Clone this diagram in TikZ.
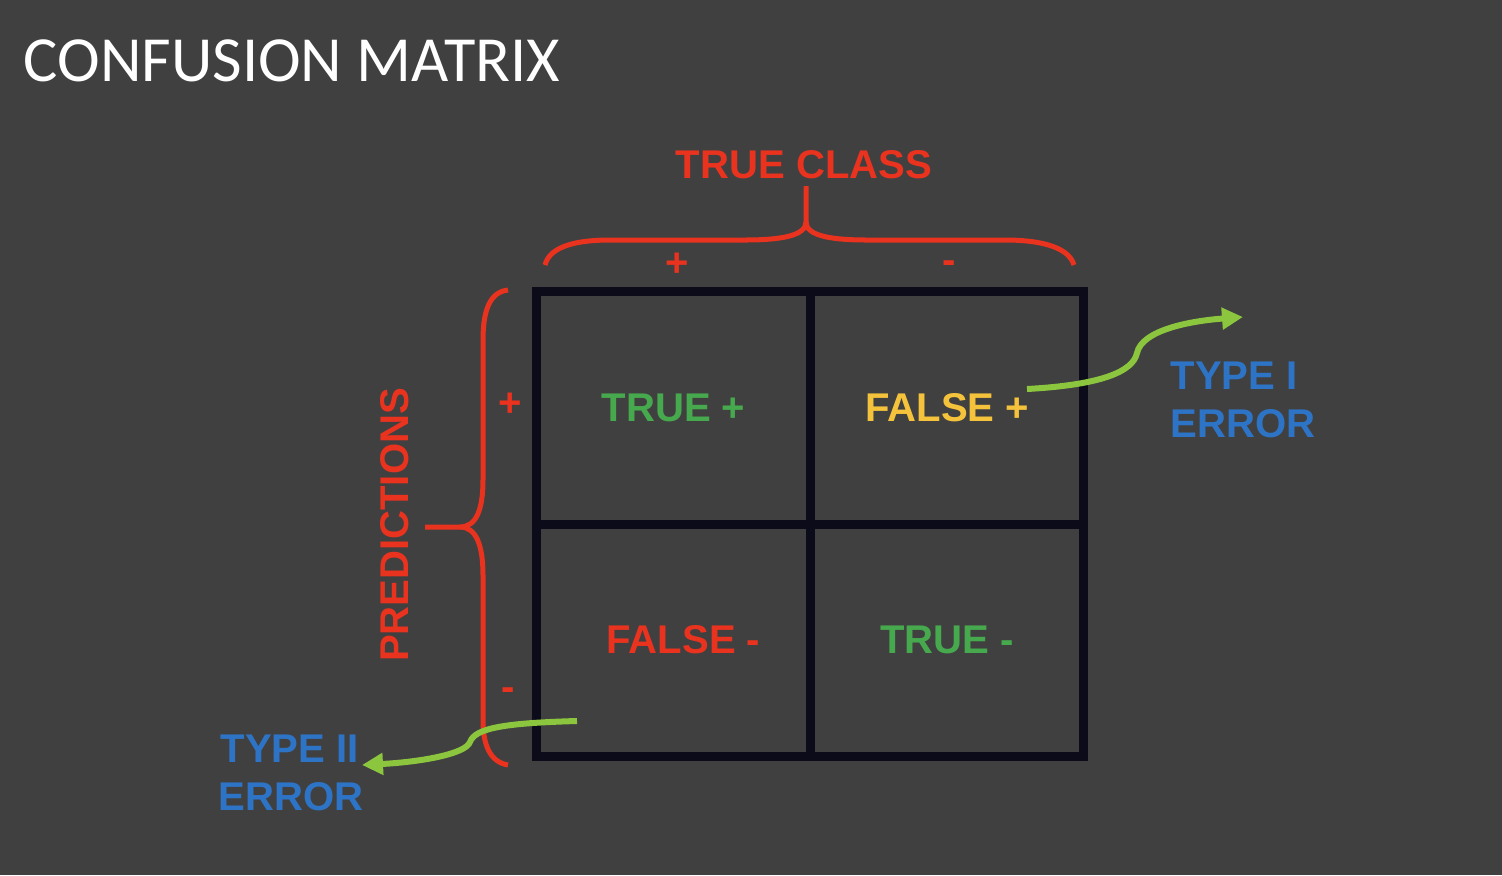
\documentclass[tikz,border=0pt]{standalone}
\usepackage{fontspec}
\setmainfont{Liberation Sans}
\newfontfamily\titlefont{Carlito}
\usetikzlibrary{arrows.meta,positioning}
\definecolor{slate}{HTML}{404040}
\definecolor{gridink}{HTML}{0B0B1A}
\definecolor{alarm}{HTML}{E9331F}
\definecolor{hitgreen}{HTML}{47A94D}
\definecolor{amber}{HTML}{F5C33B}
\definecolor{sky}{HTML}{2E74C6}
\definecolor{lime}{HTML}{8CC63E}
\tikzset{
  lbl/.style={inner sep=0pt, font=\bfseries\fontsize{11.4}{13.7}\selectfont},
  cell/.style={lbl, draw=gridink, line width=0.09cm, outer sep=0pt,
    minimum width=2.735cm, minimum height=2.32cm},
  bracket/.style={draw=alarm, line width=0.05cm},
  errarrow/.style={draw=lime, line width=0.06cm, -{Triangle[length=0.21cm, width=0.21cm]}}
}
\begin{document}
\begin{tikzpicture}[x=0.01cm, y=-0.01cm]
\useasboundingbox (0,0) rectangle (1502,875);
\fill[slate] (0,0) rectangle (1502,875);

\node[anchor=base west, inner sep=0pt, text=white, font=\titlefont\fontsize{18.3}{20}\selectfont] (title) at (23,81) {CONFUSION MATRIX};

% the four cells
\node[cell, text=hitgreen] (tp) at (673.5,408) {TRUE +};
\node[cell, text=amber, right=0pt of tp] (fp) {FALSE +};
\node[cell, text=alarm, below=0pt of tp] (fn) {\hspace*{0.2cm}FALSE -};
\node[cell, text=hitgreen, right=0pt of fn] (tn) {TRUE -};

% true class brace
\node[lbl, text=alarm, anchor=base] (trueclass) at (804,178) {TRUE CLASS};
\draw[bracket] (545,265) .. controls (550,245) and (580,240) .. (610,240) -- (745,240)
  .. controls (780,240) and (806,236) .. (806,222) -- (806,186);
\draw[bracket] (806,222) .. controls (806,236) and (832,240) .. (867,240) -- (1005,240)
  .. controls (1035,240) and (1068,245) .. (1074,265);
\node[lbl, text=alarm, anchor=base] (colpos) at (677,276) {+};
\node[lbl, text=alarm, anchor=base] (colneg) at (949,273) {-};

% predictions brace
\node[lbl, text=alarm, rotate=90, anchor=base] (predictions) at (408,525) {PREDICTIONS};
\draw[bracket] (508,290) .. controls (490,292) and (483,310) .. (483,340) -- (483,480)
  .. controls (483,510) and (476,527) .. (460,527) -- (425,527);
\draw[bracket] (460,527) .. controls (476,527) and (483,545) .. (483,575) -- (483,720)
  .. controls (483,745) and (490,762) .. (508,765);
\node[lbl, text=alarm, anchor=base] (rowpos) at (510,416) {+};
\node[lbl, text=alarm, anchor=base] (rowneg) at (508,700) {-};

% error labels
\node[lbl, text=sky, anchor=base west] (typeone) at (1170,389) {TYPE I};
\node[lbl, text=sky, anchor=base west] (typeoneerr) at (1170,437) {ERROR};
\node[lbl, text=sky, anchor=base west] (typetwo) at (220,762) {TYPE II};
\node[lbl, text=sky, anchor=base west] (typetwoerr) at (218,810) {ERROR};

\coordinate (fp tail) at (1027,389);
\coordinate (fp head) at (1243,317);
\coordinate (fn tail) at (577,721);
\coordinate (fn head) at (362,765);
\draw[errarrow] (fp tail) .. controls (1100,385) and (1133,372) .. (1137,353)
  .. controls (1142,330) and (1190,321) .. (fp head);
\draw[errarrow] (fn tail) .. controls (505,723) and (475,728) .. (470,742)
  .. controls (466,754) and (420,762) .. (fn head);
\end{tikzpicture}
\end{document}
